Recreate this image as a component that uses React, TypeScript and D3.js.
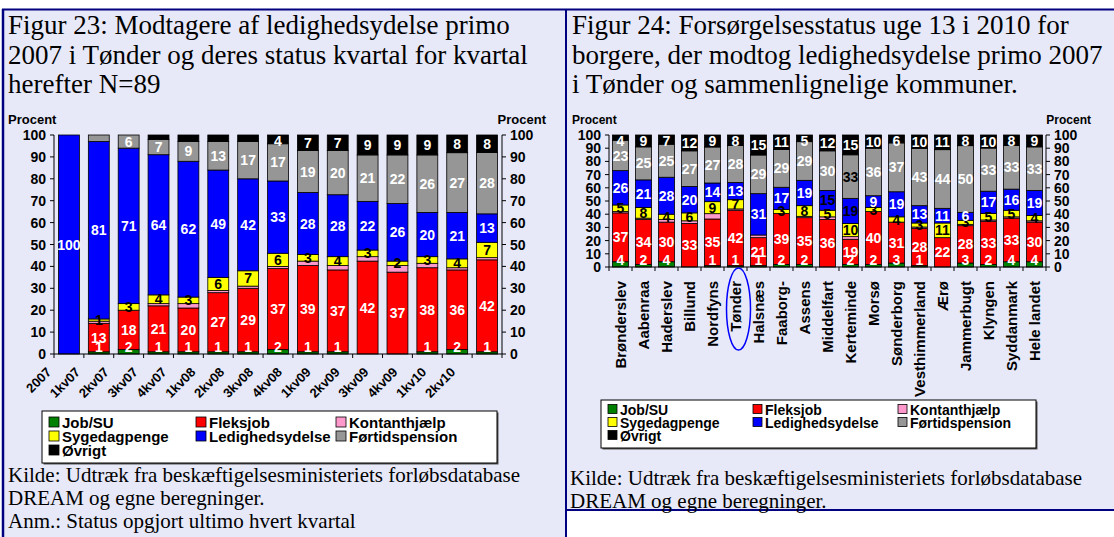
import * as React from "react";
import * as d3 from "d3";

const seriesNames = ["Job/SU", "Fleksjob", "Kontanthjælp", "Sygedagpenge", "Ledighedsydelse", "Førtidspension", "Øvrigt"];
const seriesColors = ["#008000", "#FF0000", "#FF99CC", "#FFFF00", "#0000FF", "#969696", "#000000"];
const labelColors = ["#fff", "#fff", "#000", "#000", "#fff", "#fff", "#fff"];

// Figur 23
const quarters = ["2007", "1kv07", "2kv07", "3kv07", "4kv07", "1kv08", "2kv08", "3kv08", "4kv08", "1kv09", "2kv09", "3kv09", "4kv09", "1kv10", "2kv10"];
const qJob = [0, 1, 2, 1, 1, 1, 1, 2, 1, 1, 0, 0, 1, 2, 1];
const qFleks = [0, 13, 18, 21, 20, 27, 29, 37, 39, 37, 42, 37, 38, 36, 42];
const qKont = [0, 1, 0, 1, 2, 1, 1, 1, 2, 2, 2, 3, 2, 1, 1];
const qSyge = [0, 1, 3, 4, 3, 6, 7, 6, 3, 4, 3, 2, 3, 4, 7];
const qLedig = [100, 81, 71, 64, 62, 49, 42, 33, 28, 28, 22, 26, 20, 21, 13];
const qFoertid = [0, 3, 6, 7, 9, 13, 17, 17, 19, 20, 21, 22, 26, 27, 28];
const qOevrigt = [0, 0, 0, 2, 3, 3, 3, 4, 7, 7, 9, 9, 9, 8, 8];

// Figur 24
const kommuner = ["Brønderslev", "Aabenraa", "Haderslev", "Billund", "Nordfyns", "Tønder", "Halsnæs", "Faaborg-", "Assens", "Middelfart", "Kerteminde", "Morsø", "Sønderborg", "Vesthimmerland", "Ærø", "Jammerbugt", "Klyngen", "Syddanmark", "Hele landet"];
const kJob = [4, 2, 4, 0, 1, 1, 1, 2, 2, 0, 2, 2, 3, 1, 0, 3, 2, 4, 4];
const kFleks = [37, 34, 30, 33, 35, 42, 21, 39, 35, 36, 19, 40, 31, 28, 22, 28, 33, 33, 30];
const kKont = [1, 1, 2, 2, 4, 1, 2, 0, 1, 2, 2, 0, 0, 1, 0, 1, 1, 1, 1];
const kSyge = [5, 8, 4, 6, 9, 7, 0, 3, 8, 5, 10, 3, 4, 3, 11, 3, 5, 5, 4];
const kLedig = [26, 21, 28, 20, 14, 13, 31, 17, 19, 15, 19, 9, 19, 13, 11, 6, 17, 16, 19];
const kFoertid = [23, 25, 25, 27, 27, 28, 29, 29, 29, 30, 33, 36, 37, 43, 44, 50, 33, 33, 33];
const kOevrigt = [4, 9, 7, 12, 9, 8, 15, 11, 5, 12, 15, 10, 6, 10, 11, 8, 10, 8, 9];
const darkLabels = ["Middelfart|Ledighedsydelse", "Kerteminde|Ledighedsydelse", "Kerteminde|Førtidspension"];

const yTicks = [0, 10, 20, 30, 40, 50, 60, 70, 80, 90, 100];

const title1 = ["Figur 23: Modtagere af ledighedsydelse primo", "2007 i Tønder og deres status kvartal for kvartal", "herefter N=89"];
const title2 = ["Figur 24: Forsørgelsesstatus uge 13 i 2010 for", "borgere, der modtog ledighedsydelse primo 2007", "i Tønder og sammenlignelige kommuner."];

const sans = "Arial, 'Liberation Sans', sans-serif";
const serif = "'Times New Roman', 'Liberation Serif', serif";

const StackChart = (props: any) => {
  const { cats, values, left, right, top, bottom, pad, tickFont, labelFont, dark } = props;
  const table = cats.map((c: string, i: number) => {
    const row: any = { cat: c };
    seriesNames.forEach((s, k) => (row[s] = values[k][i]));
    return row;
  });
  const layers = d3.stack().keys(seriesNames).offset(d3.stackOffsetExpand)(table);
  const x = d3.scaleBand().domain(cats).range([left, right]).paddingInner(pad).paddingOuter(pad / 2);
  const y = d3.scaleLinear().domain([0, 1]).range([bottom, top]);
  const step = x.step();

  return (
    <g>
      {layers.map((layer: any, k: number) => (
        <g key={layer.key}>
          {layer.map((d: any, i: number) =>
            d[1] - d[0] > 0 ? (
              <rect
                key={i}
                x={x(cats[i])}
                y={y(d[1])}
                width={x.bandwidth()}
                height={y(d[0]) - y(d[1])}
                fill={seriesColors[k]}
                stroke="#000"
                strokeWidth={0.8}
              />
            ) : null
          )}
        </g>
      ))}
      {layers.map((layer: any, k: number) =>
        layer.map((d: any, i: number) => {
          const v = values[k][i];
          const key = layer.key;
          if (v <= 0 || key === "Kontanthjælp") return null;
          if ((key === "Førtidspension" || key === "Øvrigt") && v < 4) return null;
          const half = labelFont * 0.42;
          const cy = Math.min(Math.max((y(d[0]) + y(d[1])) / 2, top + half), bottom - half - 1);
          const fill = dark && dark.indexOf(cats[i] + "|" + key) >= 0 ? "#000" : labelColors[k];
          return (
            <text
              key={key + i}
              x={(x(cats[i]) as number) + x.bandwidth() / 2}
              y={cy}
              dy="0.36em"
              textAnchor="middle"
              fontFamily={sans}
              fontWeight="bold"
              fontSize={labelFont}
              fill={fill}
            >
              {v}
            </text>
          );
        })
      )}
      <line x1={left} x2={left} y1={top} y2={bottom} stroke="#000" />
      <line x1={right} x2={right} y1={top} y2={bottom} stroke="#000" />
      <line x1={left} x2={right} y1={bottom} y2={bottom} stroke="#000" />
      {d3.range(cats.length + 1).map(i => (
        <line key={"xt" + i} x1={left + i * step} x2={left + i * step} y1={bottom} y2={bottom + 4} stroke="#000" />
      ))}
      {yTicks.map(t => (
        <g key={"yt" + t}>
          <line x1={left - 4} x2={left} y1={y(t / 100)} y2={y(t / 100)} stroke="#000" />
          <line x1={right} x2={right + 4} y1={y(t / 100)} y2={y(t / 100)} stroke="#000" />
          <text x={left - 8} y={y(t / 100)} dy="0.36em" textAnchor="end" fontFamily={sans} fontWeight="bold" fontSize={tickFont}>
            {t}
          </text>
          <text x={right + 8} y={y(t / 100)} dy="0.36em" textAnchor="start" fontFamily={sans} fontWeight="bold" fontSize={tickFont}>
            {t}
          </text>
        </g>
      ))}
    </g>
  );
};

const Legend = (props: any) => {
  const { x, y, w, h, cols, rowH, font, sw, first } = props;
  return (
    <g>
      <rect x={x + 1.5} y={y + 1.5} width={w} height={h} fill="#555" />
      <rect x={x} y={y} width={w} height={h} fill="#fff" stroke="#000" />
      {seriesNames.map((s, i) => {
        const c = i % 3;
        const r = Math.floor(i / 3);
        const bx = x + cols[c];
        const by = y + first + r * rowH;
        return (
          <g key={s}>
            <rect x={bx} y={by - sw / 2 - 1} width={sw} height={sw} fill={seriesColors[i]} stroke="#000" strokeWidth={0.8} />
            <text x={bx + sw + 3} y={by} dy="0.36em" fontFamily={sans} fontWeight="bold" fontSize={font}>
              {s}
            </text>
          </g>
        );
      })}
    </g>
  );
};

const App = () => {
  const qLabelX = d3.scalePoint().domain(quarters).range([52, 456]);
  const kx = d3.scaleBand().domain(kommuner).range([609, 1046]).paddingInner(0.3).paddingOuter(0.15);
  const tønderX = (kx("Tønder") as number) + kx.bandwidth() / 2;

  return (
    <svg width={1114} height={537} style={{ position: "absolute", left: 0, top: 0, background: "#fff" }}>
      <rect x={3} y={9} width={563} height={528} fill="#E7E9F8" />
      <rect x={566} y={9} width={548} height={501} fill="#E7E9F8" />
      <line x1={2} x2={1114} y1={9.5} y2={9.5} stroke="#000080" strokeWidth={2} />
      <line x1={3} x2={3} y1={9} y2={537} stroke="#000080" strokeWidth={2.5} />
      <line x1={566} x2={566} y1={9} y2={537} stroke="#000080" strokeWidth={2} />
      <line x1={566} x2={1114} y1={510} y2={510} stroke="#000080" strokeWidth={2} />

      {title1.map((t, i) => (
        <text key={t} x={8} y={34 + i * 29.5} fontFamily={serif} fontSize={27}>
          {t}
        </text>
      ))}
      {title2.map((t, i) => (
        <text key={t} x={572} y={34 + i * 29.5} fontFamily={serif} fontSize={27}>
          {t}
        </text>
      ))}

      <text x={8} y={124} fontFamily={sans} fontWeight="bold" fontSize={13}>Procent</text>
      <text x={546} y={124} textAnchor="end" fontFamily={sans} fontWeight="bold" fontSize={13}>Procent</text>
      <text x={572} y={124} fontFamily={sans} fontWeight="bold" fontSize={12}>Procent</text>
      <text x={1091} y={124} textAnchor="end" fontFamily={sans} fontWeight="bold" fontSize={12}>Procent</text>

      <StackChart
        cats={quarters}
        values={[qJob, qFleks, qKont, qSyge, qLedig, qFoertid, qOevrigt]}
        left={54}
        right={502}
        top={135}
        bottom={354}
        pad={0.3}
        tickFont={14}
        labelFont={14}
      />
      {quarters.map(q => (
        <text
          key={q}
          transform={`translate(${qLabelX(q)},373) rotate(-45)`}
          textAnchor="end"
          fontFamily={sans}
          fontWeight="bold"
          fontSize={13}
        >
          {q}
        </text>
      ))}

      <StackChart
        cats={kommuner}
        values={[kJob, kFleks, kKont, kSyge, kLedig, kFoertid, kOevrigt]}
        left={609}
        right={1046}
        top={135}
        bottom={267}
        pad={0.3}
        tickFont={14}
        labelFont={14}
        dark={darkLabels}
      />
      {kommuner.map(k => (
        <text
          key={k}
          transform={`translate(${(kx(k) as number) + kx.bandwidth() / 2 + 5},281) rotate(-90)`}
          textAnchor="end"
          fontFamily={sans}
          fontWeight="bold"
          fontSize={15}
        >
          {k}
        </text>
      ))}
      <ellipse cx={tønderX + 3} cy={309} rx={12} ry={41} fill="none" stroke="#0000FF" strokeWidth={1.5} />

      <Legend x={42} y={411} w={455} h={52} cols={[7, 154, 294]} rowH={14} font={15} sw={10} first={12} />
      <Legend x={601} y={400} w={435} h={48} cols={[7, 152, 297]} rowH={13} font={14} sw={9} first={10} />

      <text x={8} y={482} fontFamily={serif} fontSize={21}>Kilde: Udtræk fra beskæftigelsesministeriets forløbsdatabase</text>
      <text x={8} y={505} fontFamily={serif} fontSize={21}>DREAM og egne beregninger.</text>
      <text x={8} y={528} fontFamily={serif} fontSize={21}>Anm.: Status opgjort ultimo hvert kvartal</text>
      <text x={570} y={485} fontFamily={serif} fontSize={21}>Kilde: Udtræk fra beskæftigelsesministeriets forløbsdatabase</text>
      <text x={570} y={508} fontFamily={serif} fontSize={21}>DREAM og egne beregninger.</text>
    </svg>
  );
};

export default App;
